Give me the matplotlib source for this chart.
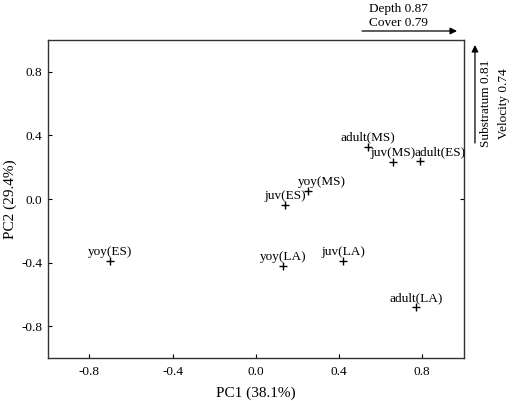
import matplotlib
matplotlib.use("Agg")
import matplotlib.pyplot as plt

# PCA scores of the groups (PC1, PC2)
labels = ["yoy(ES)", "yoy(LA)", "juv(LA)", "adult(LA)", "juv(ES)",
          "yoy(MS)", "adult(MS)", "juv(MS)", "adult(ES)"]
pc1 = [-0.70, 0.13, 0.42, 0.77, 0.14, 0.25, 0.54, 0.66, 0.79]
pc2 = [-0.39, -0.42, -0.39, -0.68, -0.04, 0.05, 0.33, 0.23, 0.24]

# horizontal shift of a few labels (points)
label_dx = [0, 0, 0, 0, 0, 10, 0, 0, 14]

ticks = [-0.8, -0.4, 0.0, 0.4, 0.8]
tick_labels = ["-0.8", "-0.4", "0.0", "0.4", "0.8"]

plt.rcParams['font.family'] = ['Liberation Serif', 'DejaVu Serif']

fig = plt.figure(figsize=(5.16, 4.01), dpi=100)
ax = fig.add_axes([0.0924, 0.1072, 0.8066, 0.793])

ax.plot(pc1, pc2, linestyle='none', marker='+', color='black',
        markersize=6, markeredgewidth=1.0)

for i in range(len(labels)):
    ax.annotate(labels[i], (pc1[i], pc2[i]), xytext=(label_dx[i], 6.5),
                textcoords='offset points', ha='center', va='center',
                fontsize=9.5)

ax.set_xlim(-1, 1)
ax.set_ylim(-1, 1)
ax.set_xticks(ticks)
ax.set_xticklabels(tick_labels)
ax.set_yticks(ticks)
ax.set_yticklabels(tick_labels)
ax.tick_params(direction='in', length=3, width=0.8, labelsize=9.5)
ax.tick_params(axis='x', pad=6)
ax.tick_params(axis='y', pad=4)

# single tick on the right spine at 0
sec = ax.secondary_yaxis('right')
sec.set_yticks([0.0])
sec.set_yticklabels([])
sec.tick_params(direction='in', length=3, width=0.8)

for sp in ax.spines.values():
    sp.set_color('#333333')
    sp.set_linewidth(1.0)
sec.spines['right'].set_visible(False)

ax.set_xlabel("PC1 (38.1%)", fontsize=11, labelpad=6)
ax.set_ylabel("PC2 (29.4%)", fontsize=11, labelpad=3)

# environmental variable arrows
ax.annotate("", xy=(0.8857, 0.9227), xytext=(0.7016, 0.9227),
            xycoords='figure fraction', textcoords='figure fraction',
            arrowprops=dict(arrowstyle='-|>', color='black', lw=0.9,
                            mutation_scale=10, shrinkA=0, shrinkB=0))
fig.text(0.773, 0.977, "Depth 0.87", ha='center', va='center', fontsize=9.5)
fig.text(0.773, 0.942, "Cover 0.79", ha='center', va='center', fontsize=9.5)

ax.annotate("", xy=(0.9205, 0.8878), xytext=(0.9205, 0.6434),
            xycoords='figure fraction', textcoords='figure fraction',
            arrowprops=dict(arrowstyle='-|>', color='black', lw=0.9,
                            mutation_scale=10, shrinkA=0, shrinkB=0))
fig.text(0.942, 0.743, "Substratum 0.81", ha='center', va='center',
         rotation=90, fontsize=9.5)
fig.text(0.9767, 0.741, "Velocity 0.74", ha='center', va='center',
         rotation=90, fontsize=9.5)

fig.savefig("out.png", dpi=100)
